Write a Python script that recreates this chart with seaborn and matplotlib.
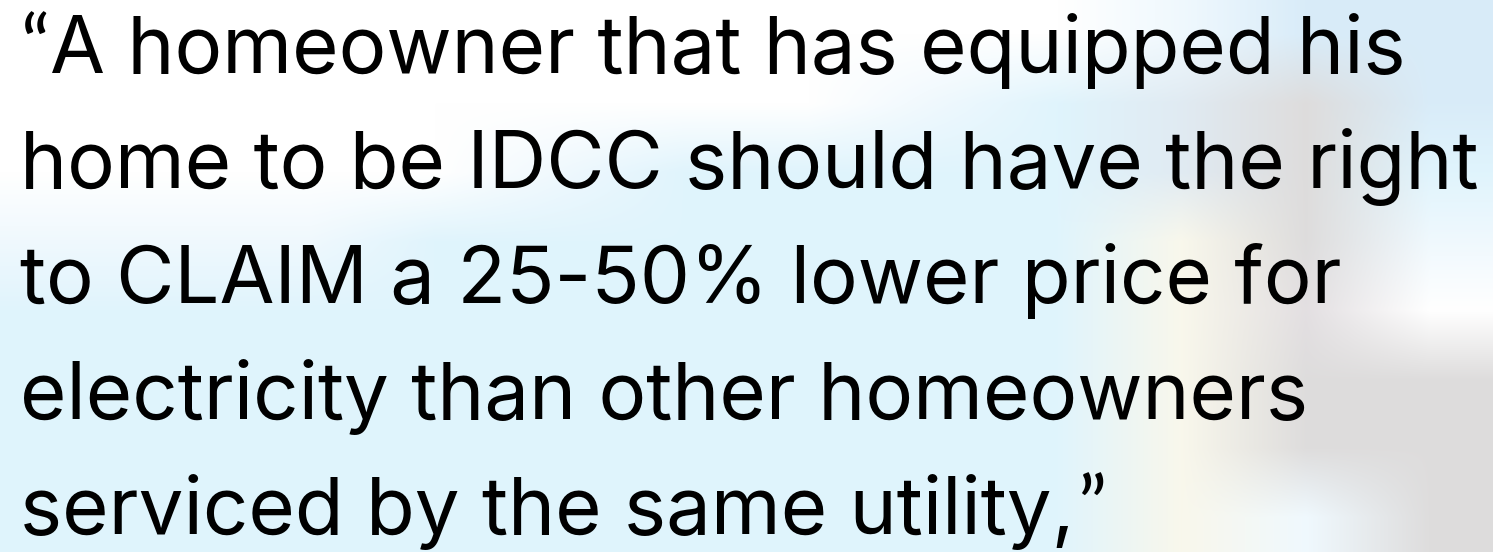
import numpy as np
import matplotlib
matplotlib.use("Agg")
import matplotlib.pyplot as plt
import seaborn as sns
from matplotlib import font_manager

# ---- content ----
open_quote = "\u201c"
close_quote = "\u201d"
lines = [
    "A homeowner that has equipped his",
    "home to be IDCC should have the right",
    "to CLAIM a 25-50% lower price for",
    "electricity than other homeowners",
    "serviced by the same utility,",
]
# right edges of each line in the reference (px), used to pick the closest font
line_right_px = [1408, 1481, 1366, 1281, 1068]

# ---- background colour grid (decoration) ----
W = (1.0, 1.0, 1.0)
B = (0.878, 0.957, 0.99)
B2 = (0.85, 0.925, 0.975)
BG = (0.88, 0.92, 0.95)
G = (0.87, 0.865, 0.865)
P = (0.89, 0.875, 0.885)
C = (0.975, 0.97, 0.925)
M = (0.94, 0.975, 0.995)
bg_grid = [
    [W, W, W, W, W, W, W, W, W, M, B2, B2],
    [W, W, W, W, W, W, W, M, B, BG, G, B2],
    [W, W, W, W, M, B, B, B, B, BG, G, B],
    [M, M, M, B, B, B, B, B, B, C, G, M],
    [B, B, B, B, B, B, B, B, B, C, P, W],
    [B, B, B, B, B, B, B, B, B, C, G, G],
    [B, B, B, B, B, B, B, B, B, C, G, G],
    [B, B, B, B, B, B, B, B, B, C, M, G],
]

sns.set_theme(style="white")
plt.rcParams["font.family"] = ["DejaVu Sans"]

W_PX, H_PX, DPI = 1493, 552, 100
fig = plt.figure(figsize=(W_PX / DPI, H_PX / DPI), dpi=DPI)
ax = fig.add_axes([0, 0, 1, 1])
ax.set_xlim(0, W_PX)
ax.set_ylim(H_PX, 0)
ax.axis("off")
ax.imshow(np.array(bg_grid), extent=(0, W_PX, H_PX, 0), interpolation="bilinear",
          aspect="auto", zorder=0)

renderer = fig.canvas.get_renderer()
candidates = ["Inter", "Liberation Sans", "Noto Sans", "Roboto",
              "Open Sans", "Lato", "DejaVu Sans"]
left = 20
target = np.array(line_right_px, dtype=float)
target[0] -= 50
target[1:] -= left
target_ratio = target / target[1]

def widths(fam, size=40):
    out = []
    for s in lines:
        t = ax.text(0, 0, s, fontsize=size, family=fam)
        out.append(t.get_window_extent(renderer).width)
        t.remove()
    return np.array(out)

best, best_err, best_w = None, 1e9, None
for fam in candidates:
    try:
        font_manager.findfont(fam, fallback_to_default=False)
    except Exception:
        continue
    w = widths(fam)
    err = np.sum((w / w[1] - target_ratio) ** 2)
    if err < best_err:
        best, best_err, best_w = fam, err, w

size = 40 * target[1] / best_w[1]
quote_family = ["Lato", "DejaVu Sans"]
baseline0, step = 72.7, 115.3
for i, s in enumerate(lines):
    y = baseline0 + i * step
    x = left
    if i == 0:
        ax.text(left, y, open_quote, fontsize=size, family=quote_family,
                color="black", va="baseline", ha="left", zorder=2)
        x = 50
    t = ax.text(x, y, s, fontsize=size, family=best,
                color="black", va="baseline", ha="left", zorder=2)
    if i == len(lines) - 1:
        ext = t.get_window_extent(renderer)
        ax.text(ext.x1 + 3, y, close_quote, fontsize=size, family=quote_family,
                color="black", va="baseline", ha="left", zorder=2)

fig.savefig("out.png", dpi=DPI)
